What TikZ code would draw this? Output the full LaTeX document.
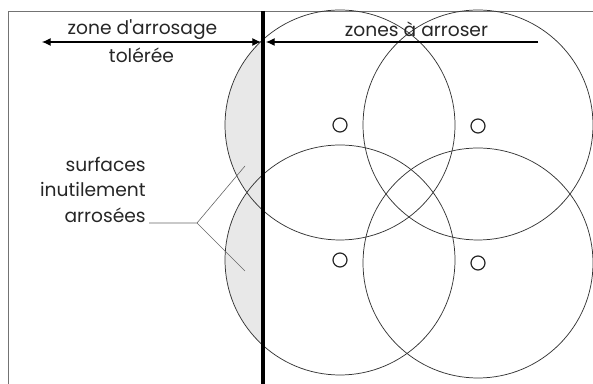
\documentclass[tikz,border=0pt]{standalone}
\usepackage{fontspec}
\setmainfont{Poppins}
\usetikzlibrary{arrows.meta}
\begin{document}
\begin{tikzpicture}[x=0.75pt,y=-0.75pt,
  frame/.style={draw=black!55,line width=0.6pt},
  zone/.style={draw=black!80,line width=0.55pt},
  spr/.style={circle,draw=black!85,line width=0.9pt,minimum size=10.5pt,inner sep=0pt},
  lbl/.style={font=\fontsize{14}{17}\selectfont,text=black!85,inner sep=0pt,anchor=base},
  side/.style={lbl,anchor=base east},
  tip/.style={Latex[length=6.5pt,width=6pt]},
  arr/.style={line width=0.8pt,-{Latex[length=6.5pt,width=6pt]}},
  lead/.style={draw=black!60,line width=0.45pt}]
\useasboundingbox (0,0) rectangle (593,384);
% shaded wasted surfaces
\begin{scope}
  \clip (200,0) rectangle (263,384);
  \fill[black!9] (340,125) circle[radius=115];
  \fill[black!9] (340,260) circle[radius=115];
\end{scope}
% frame
\draw[frame] (8,384) -- (8,11) -- (593,11);
% watering circles
\node[zone,circle,minimum size=172.5pt,inner sep=0pt] (c1) at (340,125) {};
\node[zone,circle,minimum size=172.5pt,inner sep=0pt] (c2) at (478,125) {};
\node[zone,circle,minimum size=172.5pt,inner sep=0pt] (c3) at (340,260) {};
\node[zone,circle,minimum size=172.5pt,inner sep=0pt] (c4) at (478,263) {};
% sprinklers
\node[spr] (s1) at (340,125) {};
\node[spr] (s2) at (478,126) {};
\node[spr] (s3) at (340,260) {};
\node[spr] (s4) at (478,263) {};
% boundary line
\coordinate (btop) at (263,11);
\coordinate (bbot) at (263,384);
\draw[line width=3pt] (btop) -- (bbot);
% arrows
\coordinate (a1s) at (261,42);
\coordinate (a1e) at (42,42);
\coordinate (a2s) at (538,42);
\coordinate (a2e) at (266,42);
\draw[line width=0.8pt,{Latex[length=6.5pt,width=6pt]}-{Latex[length=6.5pt,width=6pt]}] (a1e) -- (a1s);
\draw[arr] (a2s) -- (a2e);
% texts
\node[lbl] (t1) at (142.5,35) {zone d\textquotesingle arrosage};
\node[lbl] (t2) at (141.5,63) {tolérée};
\node[lbl] (t3) at (416.5,37) {zones à arroser};
\node[side] (t4) at (146,172) {surfaces};
\node[side] (t5) at (146,197) {inutilement};
\node[side] (t6) at (146,223) {arrosées};
% leader lines
\coordinate (f) at (197,223);
\coordinate (p1) at (245,166);
\coordinate (p2) at (245,271);
\draw[lead] (t6.base east) ++(3,0) -- (f) -- (p1);
\draw[lead] (f) -- (p2);
\end{tikzpicture}
\end{document}
